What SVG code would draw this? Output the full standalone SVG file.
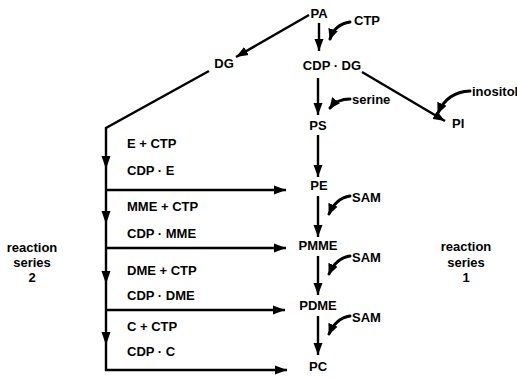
<svg xmlns="http://www.w3.org/2000/svg" xmlns:xlink="http://www.w3.org/1999/xlink" width="517" height="378" viewBox="0 0 517 378">
<style>
text{font-family:"Liberation Sans",Arial,sans-serif;font-weight:bold;font-size:13px;fill:#000}
.m{text-anchor:middle}
.ln{stroke:#000;stroke-width:2.4;fill:none}
.cv{stroke:#000;stroke-width:3;fill:none;stroke-linecap:round}
</style>
<defs>
<marker id="ah" markerUnits="userSpaceOnUse" markerWidth="13" markerHeight="10" refX="12" refY="5" orient="auto"><path d="M0,0.5 L12,5 L0,9.5 z" fill="#000"/></marker>
<marker id="ahs" markerUnits="userSpaceOnUse" markerWidth="12" markerHeight="11" refX="10" refY="5.5" orient="auto"><path d="M0,0.5 L11,5.5 L0,10.5 z" fill="#000"/></marker>
<path id="ahd" d="M-4.5,-13 L4.5,-13 L0,0 z" fill="#000"/>
</defs>
<rect width="517" height="378" fill="#fff"/>
<g id="connectors">
<path class="ln" d="M309,15 L236,57" marker-end="url(#ah)"/>
<path class="ln" d="M319,23 L319,51" marker-end="url(#ah)"/>
<path class="ln" d="M209,71 L106,128 L106,370 L287,370" marker-end="url(#ah)"/>
<use xlink:href="#ahd" x="106" y="169"/>
<use xlink:href="#ahd" x="106" y="224"/>
<use xlink:href="#ahd" x="106" y="284"/>
<use xlink:href="#ahd" x="106" y="345"/>
<path class="ln" d="M106,190 L286,190" marker-end="url(#ah)"/>
<path class="ln" d="M106,248 L286,248" marker-end="url(#ah)"/>
<path class="ln" d="M106,310 L285,310" marker-end="url(#ah)"/>
<path class="ln" d="M318,78 L318,115" marker-end="url(#ah)"/>
<path class="ln" d="M318,135 L318,177" marker-end="url(#ah)"/>
<path class="ln" d="M318,196 L318,237" marker-end="url(#ah)"/>
<path class="ln" d="M318,256 L318,295" marker-end="url(#ah)"/>
<path class="ln" d="M318,316 L318,355" marker-end="url(#ah)"/>
<path class="ln" d="M362,72 L445,121" marker-end="url(#ah)"/>
<path class="cv" d="M350,22 Q335,24 330,39" marker-end="url(#ahs)"/>
<path class="cv" d="M350,99 Q337,99 330,108" marker-end="url(#ahs)"/>
<path class="cv" d="M470,91 Q447,92 438,113" marker-end="url(#ahs)"/>
<path class="cv" d="M350,196 Q336,198 329,214" marker-end="url(#ahs)"/>
<path class="cv" d="M350,256 Q336,258 329,274" marker-end="url(#ahs)"/>
<path class="cv" d="M350,316 Q336,318 329,334" marker-end="url(#ahs)"/>
</g>
<g id="PA"><text class="m" x="319" y="18">PA</text></g>
<g id="CTP"><text x="354" y="25">CTP</text></g>
<g id="DG"><text class="m" x="224" y="68">DG</text></g>
<g id="CDP-DG"><text class="m" x="332" y="70">CDP · DG</text></g>
<g id="serine"><text x="352" y="104">serine</text></g>
<g id="inositol"><text x="472" y="96">inositol</text></g>
<g id="PI"><text x="452" y="128">PI</text></g>
<g id="PS"><text class="m" x="318" y="130">PS</text></g>
<g id="PE"><text class="m" x="319" y="190">PE</text></g>
<g id="PMME"><text class="m" x="318" y="250">PMME</text></g>
<g id="PDME"><text class="m" x="318" y="310">PDME</text></g>
<g id="PC"><text class="m" x="318" y="371">PC</text></g>
<g id="SAM1"><text x="352" y="202">SAM</text></g>
<g id="SAM2"><text x="352" y="262">SAM</text></g>
<g id="SAM3"><text x="352" y="322">SAM</text></g>
<g id="E-CTP"><text x="127" y="148">E + CTP</text></g>
<g id="CDP-E"><text x="127" y="175">CDP · E</text></g>
<g id="MME-CTP"><text x="127" y="211">MME + CTP</text></g>
<g id="CDP-MME"><text x="127" y="238">CDP · MME</text></g>
<g id="DME-CTP"><text x="127" y="275">DME + CTP</text></g>
<g id="CDP-DME"><text x="127" y="300">CDP · DME</text></g>
<g id="C-CTP"><text x="127" y="331">C + CTP</text></g>
<g id="CDP-C"><text x="127" y="356">CDP · C</text></g>
<g id="series2"><text class="m" x="32" y="252">reaction</text><text class="m" x="32" y="267">series</text><text class="m" x="32" y="282">2</text></g>
<g id="series1"><text class="m" x="466" y="251">reaction</text><text class="m" x="466" y="267">series</text><text class="m" x="466" y="282">1</text></g>
</svg>
